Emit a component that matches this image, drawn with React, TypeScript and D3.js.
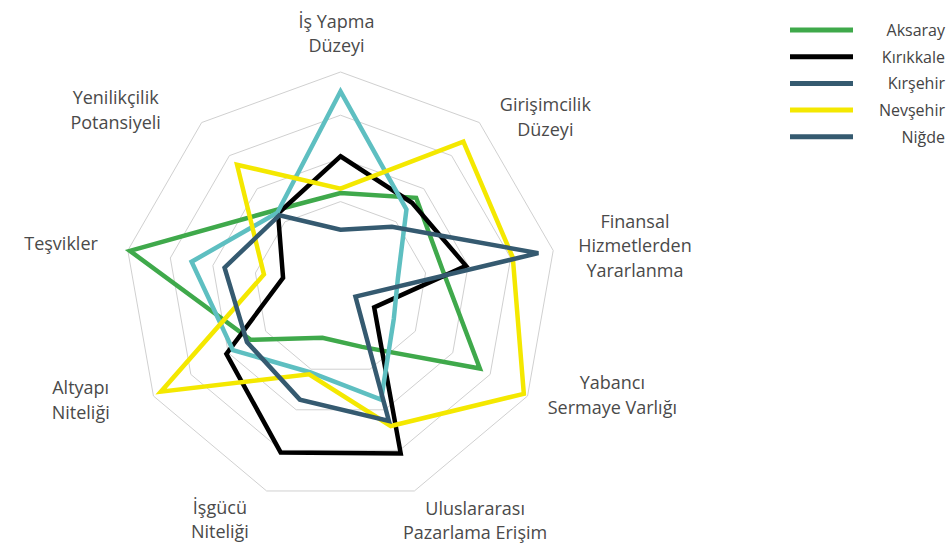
import React from "react";
import * as d3 from "d3";

// ---- data ----
const axisLabels: string[][] = [
  ["İş Yapma", "Düzeyi"],
  ["Girişimcilik", "Düzeyi"],
  ["Finansal", "Hizmetlerden", "Yararlanma"],
  ["Yabancı", "Sermaye Varlığı"],
  ["Uluslararası", "Pazarlama Erişim"],
  ["İşgücü", "Niteliği"],
  ["Altyapı", "Niteliği"],
  ["Teşvikler"],
  ["Yenilikçilik", "Potansiyeli"],
];

const seriesNames = ["Aksaray", "Kırıkkale", "Kırşehir", "Nevşehir", "Niğde"];

const aksaray = [0.44, 0.545, 0.48, 0.745, 0.29, 0.245, 0.48, 0.99, 0.47];
const kirikkale = [0.61, 0.515, 0.59, 0.18, 0.815, 0.81, 0.61, 0.27, 0.45];
const kirsehir = [0.91, 0.475, 0.27, 0.285, 0.55, 0.415, 0.575, 0.7, 0.455];
const nevsehir = [0.46, 0.885, 0.81, 0.98, 0.68, 0.425, 0.96, 0.36, 0.745];
const nigde = [0.27, 0.37, 0.93, 0.08, 0.655, 0.55, 0.5, 0.545, 0.44];

const gridLevels = [0.4, 0.6, 0.8, 1.0];

// ---- styles / layout ----
const lineColors = ["#3fa94b", "#000000", "#5ebfc1", "#f4e800", "#355a70"];
const legendColors = ["#3fa94b", "#000000", "#355a70", "#f4e800", "#355a70"];

const W = 948;
const H = 550;
const cx = 340.5;
const cy = 288;
const R = 216;
const labelRx = 300;
const labelRy = 245;
const labelNudge: [number, number][] = [
  [-4, -10],
  [12, 16],
  [-1, 0],
  [12, -16],
  [32, 2],
  [-18, 1],
  [0, -11],
  [16, -2],
  [-32, 9],
];

export default function App() {
  const series = [aksaray, kirikkale, kirsehir, nevsehir, nigde];
  const n = axisLabels.length;
  const angle = d3
    .scaleLinear()
    .domain([0, n])
    .range([0, 2 * Math.PI]);
  const r = d3.scaleLinear().domain([0, 1]).range([0, R]);

  const radial = d3
    .lineRadial<number>()
    .angle((_, i) => angle(i))
    .radius((d) => r(d))
    .curve(d3.curveLinearClosed);

  const lineH = 24.5;
  const legendY = d3.scaleLinear().domain([0, 1]).range([30, 56.7]);

  return (
    <svg
      width={W}
      height={H}
      style={{ position: "absolute", left: 0, top: 0, background: "#fff" }}
      fontFamily="'Open Sans', 'Noto Sans', sans-serif"
    >
      <g transform={`translate(${cx},${cy})`}>
        {gridLevels.map((lv) => (
          <path
            key={lv}
            d={radial(new Array(n).fill(lv)) || ""}
            fill="none"
            stroke="#d0d0d0"
            strokeWidth={1}
          />
        ))}
        {series.map((s, si) => (
          <path
            key={si}
            d={radial(s) || ""}
            fill="none"
            stroke={lineColors[si]}
            strokeWidth={4.5}
            strokeLinejoin="miter"
          />
        ))}
      </g>
      {axisLabels.map((lines, i) => {
        const a = angle(i);
        const x = cx + labelRx * Math.sin(a) + labelNudge[i][0];
        const y = cy - labelRy * Math.cos(a) + labelNudge[i][1];
        return (
          <text
            key={i}
            textAnchor="middle"
            fontSize={18}
            fontWeight={500}
            fill="#4a4a4a"
          >
            {lines.map((ln, k) => (
              <tspan
                key={k}
                x={x}
                y={y + (k - (lines.length - 1) / 2) * lineH}
                dominantBaseline="central"
              >
                {ln}
              </tspan>
            ))}
          </text>
        );
      })}
      {seriesNames.map((name, i) => {
        const y = legendY(i);
        return (
          <g key={name}>
            <line
              x1={790}
              x2={853}
              y1={y}
              y2={y}
              stroke={legendColors[i]}
              strokeWidth={5}
            />
            <text
              x={945}
              y={y}
              textAnchor="end"
              dominantBaseline="central"
              fontSize={16}
              fontWeight={500}
              fill="#444"
            >
              {name}
            </text>
          </g>
        );
      })}
    </svg>
  );
}
